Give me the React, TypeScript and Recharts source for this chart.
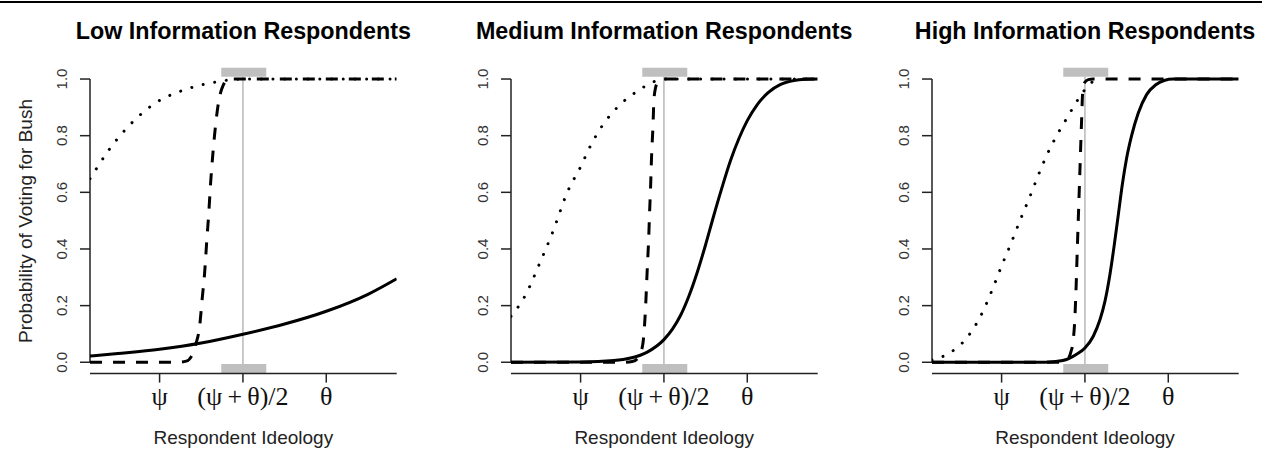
import React from 'react';
import { LineChart, Line, XAxis, YAxis, ReferenceArea, ReferenceLine } from 'recharts';

type Pt = [number, number];

// x in units where psi = -1, (psi+theta)/2 = 0, theta = 1
const xDomain: [number, number] = [-1.835, 1.845];
const yDomain: [number, number] = [-0.04, 1.04];
const xTicks = [-1, 0, 1];
const xTickLabels = ['ψ', '(ψ\u2009+\u2009θ)/2', 'θ'];
const yTicks = [0, 0.2, 0.4, 0.6, 0.8, 1.0];

const panelTitles = [
  'Low Information Respondents',
  'Medium Information Respondents',
  'High Information Respondents',
];

// grey markers around the midpoint
const bandX: [number, number] = [-0.26, 0.28];
const bandTop: [number, number] = [1.008, 1.04];
const bandBottom: [number, number] = [-0.04, -0.006];

// low information
const lowSolid: Pt[] = [
  [-1.835, 0.022], [-1.5, 0.031], [-1.0, 0.046], [-0.5, 0.068], [0, 0.099],
  [0.5, 0.135], [1.0, 0.18], [1.5, 0.24], [1.845, 0.295],
];
const lowDashed: Pt[] = [
  [-1.835, 0], [-0.8, 0], [-0.68, 0.004], [-0.62, 0.02], [-0.57, 0.06], [-0.52, 0.126],
  [-0.487, 0.23], [-0.46, 0.314], [-0.436, 0.42], [-0.41, 0.526], [-0.388, 0.632],
  [-0.36, 0.738], [-0.328, 0.838], [-0.288, 0.926], [-0.235, 0.979], [-0.187, 0.998],
  [-0.1, 1.0], [1.845, 1.0],
];
const lowDotted: Pt[] = [
  [-1.835, 0.648], [-1.768, 0.679], [-1.62, 0.745], [-1.43, 0.815], [-1.25, 0.869],
  [-1.036, 0.918], [-0.768, 0.955], [-0.487, 0.98], [-0.25, 0.993], [-0.1, 0.999],
  [0, 1.0], [1.845, 1.0],
];

// medium information
const medSolid: Pt[] = [
  [-1.835, 0], [-1.0, 0.001], [-0.6, 0.006], [-0.4, 0.015], [-0.2, 0.036], [0, 0.08],
  [0.1, 0.116], [0.2, 0.166], [0.3, 0.234], [0.4, 0.318], [0.5, 0.415], [0.6, 0.52],
  [0.7, 0.62], [0.8, 0.713], [0.9, 0.79], [1.0, 0.853], [1.12, 0.91], [1.25, 0.952],
  [1.4, 0.981], [1.56, 0.995], [1.7, 0.999], [1.845, 1.0],
];
const medDashed: Pt[] = [
  [-1.835, 0], [-0.5, 0], [-0.38, 0.003], [-0.32, 0.012], [-0.27, 0.04], [-0.24, 0.1],
  [-0.22, 0.196], [-0.2, 0.33], [-0.184, 0.43], [-0.172, 0.53], [-0.16, 0.62],
  [-0.148, 0.73], [-0.132, 0.83], [-0.12, 0.926], [-0.1, 0.97], [-0.072, 0.99],
  [-0.04, 1.0], [1.845, 1.0],
];
const medDotted: Pt[] = [
  [-1.835, 0.162], [-1.66, 0.238], [-1.49, 0.35], [-1.33, 0.463], [-1.16, 0.6],
  [-1.0, 0.69], [-0.88, 0.765], [-0.74, 0.835], [-0.56, 0.9], [-0.34, 0.953],
  [-0.16, 0.985], [-0.05, 0.998], [0.05, 1.0], [1.845, 1.0],
];

// high information
const highSolid: Pt[] = [
  [-1.835, 0], [-0.6, 0], [-0.35, 0.003], [-0.2, 0.012], [-0.1, 0.028], [0, 0.05],
  [0.1, 0.092], [0.18, 0.15], [0.24, 0.215], [0.3, 0.31], [0.35, 0.41], [0.4, 0.52],
  [0.45, 0.63], [0.5, 0.72], [0.56, 0.8], [0.64, 0.88], [0.74, 0.945], [0.85, 0.98],
  [0.95, 0.995], [1.06, 1.0], [1.845, 1.0],
];
const highDashed: Pt[] = [
  [-1.835, 0], [-0.3, 0], [-0.24, 0.003], [-0.2, 0.012], [-0.17, 0.035], [-0.14, 0.079],
  [-0.12, 0.16], [-0.11, 0.232], [-0.088, 0.432], [-0.064, 0.643], [-0.04, 0.855],
  [-0.028, 0.949], [-0.01, 0.985], [0.04, 0.998], [0.1, 1.0], [1.845, 1.0],
];
const highDotted: Pt[] = [
  [-1.835, 0.008], [-1.76, 0.014], [-1.63, 0.032], [-1.52, 0.055], [-1.42, 0.085],
  [-1.34, 0.118], [-1.27, 0.153], [-1.2, 0.195], [-1.1, 0.265], [-1.0, 0.34],
  [-0.88, 0.425], [-0.78, 0.5], [-0.66, 0.585], [-0.56, 0.66], [-0.46, 0.73],
  [-0.32, 0.81], [-0.2, 0.87], [-0.1, 0.92], [-0.02, 0.955], [0.05, 0.98],
  [0.1, 0.992], [0.15, 1.0],
];

const panels = [
  { solid: lowSolid, dashed: lowDashed, dotted: lowDotted },
  { solid: medSolid, dashed: medDashed, dotted: medDotted },
  { solid: highSolid, dashed: highDashed, dotted: highDotted },
];

const SANS = "'Liberation Sans', Arial, sans-serif";
const SERIF = "'Liberation Serif', 'Times New Roman', serif";
const AXIS = '#222';

const PANEL_STEP = 420.85;
const CHART_W = 421;
const CHART_H = 465;
const PLOT_LEFT = 90;
const PLOT_RIGHT = 396.7;

const toRows = (pts: Pt[]) => pts.map(([x, p]) => ({ x, p }));

function XTick(props: any) {
  const { x, y, payload } = props;
  const i = xTicks.indexOf(payload.value);
  return (
    <text x={x} y={y} dy={20.5} textAnchor="middle" fontFamily={SERIF} fontSize={26} fill="#111">
      {xTickLabels[i]}
    </text>
  );
}

function YTick(props: any) {
  const { x, y, payload } = props;
  return (
    <text
      transform={`translate(${x},${y}) rotate(-90)`}
      textAnchor="middle"
      fontFamily={SANS}
      fontSize={15}
      fill="#333"
    >
      {Number(payload.value).toFixed(1)}
    </text>
  );
}

function Panel({ solid, dashed, dotted }: { solid: Pt[]; dashed: Pt[]; dotted: Pt[] }) {
  return (
    <LineChart
      width={CHART_W}
      height={CHART_H}
      margin={{ top: 67.7, right: CHART_W - PLOT_RIGHT, bottom: 31.4, left: 30 }}
    >
      <XAxis
        type="number"
        dataKey="x"
        domain={xDomain}
        ticks={xTicks}
        interval={0}
        allowDataOverflow
        height={60}
        tickSize={9}
        tick={<XTick />}
        axisLine={{ stroke: AXIS, strokeWidth: 1.5 }}
        tickLine={{ stroke: AXIS, strokeWidth: 1.5 }}
      />
      <YAxis
        type="number"
        dataKey="p"
        domain={yDomain}
        ticks={yTicks}
        interval={0}
        allowDataOverflow
        width={60}
        tickSize={10}
        tickMargin={13}
        tick={<YTick />}
        axisLine={false}
        tickLine={{ stroke: AXIS, strokeWidth: 1.5 }}
      />
      <ReferenceArea x1={bandX[0]} x2={bandX[1]} y1={bandTop[0]} y2={bandTop[1]} fill="#bfbfbf" fillOpacity={1} stroke="none" />
      <ReferenceArea x1={bandX[0]} x2={bandX[1]} y1={bandBottom[0]} y2={bandBottom[1]} fill="#bfbfbf" fillOpacity={1} stroke="none" />
      <ReferenceLine
        segment={[{ x: 0, y: bandBottom[1] }, { x: 0, y: bandTop[0] }]}
        stroke="#b8b8b8"
        strokeWidth={1.5}
      />
      <ReferenceLine
        segment={[{ x: xDomain[0], y: 0 }, { x: xDomain[0], y: 1 }]}
        stroke={AXIS}
        strokeWidth={1.5}
      />
      <Line data={toRows(solid)} dataKey="p" type="monotone" dot={false} stroke="#000" strokeWidth={3} isAnimationActive={false} />
      <Line data={toRows(dashed)} dataKey="p" type="monotone" dot={false} stroke="#000" strokeWidth={3} strokeDasharray="12 11" isAnimationActive={false} />
      <Line data={toRows(dotted)} dataKey="p" type="monotone" dot={false} stroke="#000" strokeWidth={3} strokeDasharray="0.01 11.7" strokeLinecap="round" isAnimationActive={false} />
    </LineChart>
  );
}

export default function App() {
  const plotCenter = (PLOT_LEFT + PLOT_RIGHT) / 2;
  return (
    <div style={{ position: 'absolute', left: 0, top: 0, width: 1267, height: 465, background: '#fff', overflow: 'hidden' }}>
      <div style={{ position: 'absolute', left: 0, top: 1, width: 1262, height: 2, background: '#000' }} />
      {panels.map((pn, k) => (
        <div key={k} style={{ position: 'absolute', left: k * PANEL_STEP, top: 0 }}>
          <Panel solid={pn.solid} dashed={pn.dashed} dotted={pn.dotted} />
        </div>
      ))}
      <svg width={1267} height={465} style={{ position: 'absolute', left: 0, top: 0, pointerEvents: 'none' }}>
        {panelTitles.map((t, k) => (
          <text key={t} x={plotCenter + k * PANEL_STEP} y={38.5} textAnchor="middle" fontFamily={SANS} fontWeight="bold" fontSize={23.3} fill="#000">
            {t}
          </text>
        ))}
        {panelTitles.map((t, k) => (
          <text key={'x' + k} x={plotCenter + k * PANEL_STEP} y={444} textAnchor="middle" fontFamily={SANS} fontSize={19} fill="#222">
            Respondent Ideology
          </text>
        ))}
        <text transform="translate(31.5,221) rotate(-90)" textAnchor="middle" fontFamily={SANS} fontSize={19} fill="#222">
          Probability of Voting for Bush
        </text>
      </svg>
    </div>
  );
}
